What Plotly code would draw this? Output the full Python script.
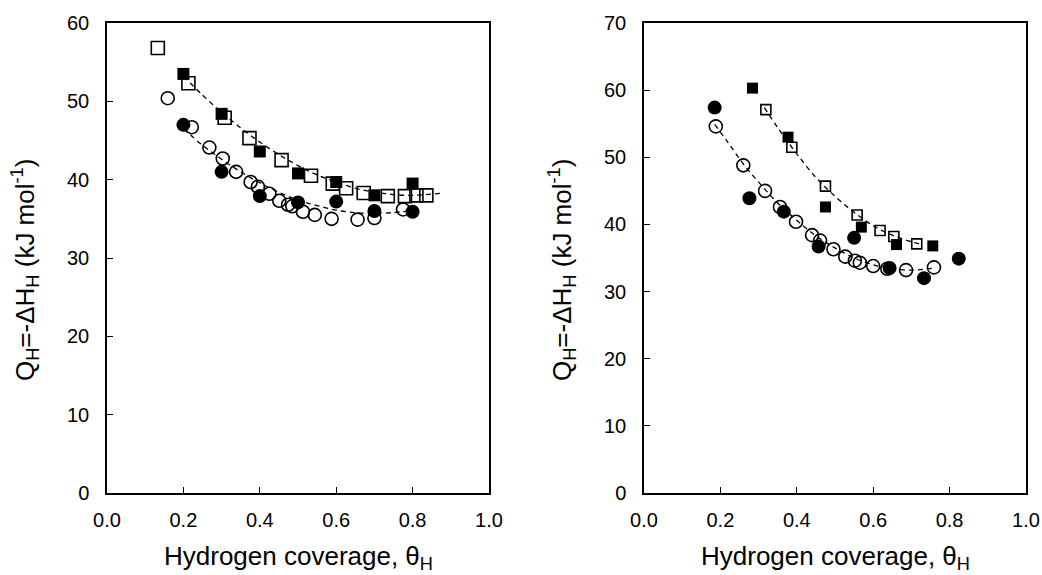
import plotly.graph_objects as go

# ---------------- Left panel data ----------------
L_open_sq_x = [0.133, 0.213, 0.308, 0.373, 0.457, 0.534, 0.591, 0.626, 0.672, 0.735, 0.780, 0.810, 0.836]
L_open_sq_y = [56.8, 52.3, 47.9, 45.3, 42.5, 40.5, 39.5, 38.9, 38.3, 37.9, 37.9, 38.0, 38.0]
L_fill_sq_x = [0.2, 0.3, 0.4, 0.5, 0.6, 0.7, 0.8]
L_fill_sq_y = [53.5, 48.4, 43.6, 40.8, 39.7, 38.0, 39.5]
L_fill_ci_x = [0.2, 0.3, 0.4, 0.5, 0.6, 0.7, 0.8]
L_fill_ci_y = [47.0, 41.0, 37.9, 37.1, 37.2, 36.0, 35.9]
L_open_ci_x = [0.159, 0.222, 0.268, 0.303, 0.338, 0.376, 0.395, 0.425, 0.451, 0.474, 0.485,
               0.513, 0.544, 0.588, 0.656, 0.700, 0.775]
L_open_ci_y = [50.4, 46.7, 44.1, 42.7, 41.0, 39.7, 39.1, 38.2, 37.3, 36.8, 36.6,
               35.9, 35.5, 35.0, 34.9, 35.1, 36.2]
# dashed fit curves
L_fit_up_x = [0.20, 0.25, 0.30, 0.35, 0.40, 0.45, 0.50, 0.55, 0.60, 0.65, 0.70, 0.75, 0.80, 0.88]
L_fit_up_y = [53.2, 50.8, 48.6, 46.6, 44.8, 43.2, 41.8, 40.6, 39.7, 38.9, 38.4, 38.1, 38.0, 38.3]
L_fit_lo_x = [0.20, 0.25, 0.30, 0.35, 0.40, 0.45, 0.50, 0.55, 0.60, 0.65, 0.70, 0.75, 0.79]
L_fit_lo_y = [46.5, 44.4, 42.6, 41.0, 39.6, 38.4, 37.4, 36.7, 36.1, 35.8, 35.7, 35.8, 36.0]

# ---------------- Right panel data ----------------
R_fill_sq_x = [0.284, 0.377, 0.475, 0.569, 0.661, 0.756]
R_fill_sq_y = [60.3, 53.0, 42.6, 39.6, 37.0, 36.8]
R_open_sq_x = [0.319, 0.387, 0.475, 0.558, 0.618, 0.654, 0.714]
R_open_sq_y = [57.1, 51.5, 45.7, 41.4, 39.1, 38.2, 37.1]
R_fill_ci_x = [0.185, 0.276, 0.366, 0.457, 0.550, 0.643, 0.733, 0.824]
R_fill_ci_y = [57.4, 43.9, 41.9, 36.7, 38.0, 33.5, 32.0, 34.9]
R_open_ci_x = [0.188, 0.260, 0.317, 0.356, 0.398, 0.440, 0.461, 0.496, 0.527, 0.552, 0.565,
               0.600, 0.637, 0.686, 0.759]
R_open_ci_y = [54.6, 48.8, 45.0, 42.6, 40.4, 38.4, 37.6, 36.3, 35.2, 34.6, 34.3,
               33.8, 33.4, 33.2, 33.6]
R_fit_up_x = [0.315, 0.35, 0.40, 0.45, 0.50, 0.55, 0.60, 0.65, 0.70, 0.72]
R_fit_up_y = [57.4, 54.4, 50.5, 47.0, 44.2, 41.8, 39.8, 38.4, 37.4, 37.1]
R_fit_lo_x = [0.185, 0.22, 0.26, 0.30, 0.35, 0.40, 0.45, 0.50, 0.55, 0.60, 0.65, 0.70, 0.76]
R_fit_lo_y = [54.9, 52.2, 49.0, 46.3, 43.2, 40.6, 38.3, 36.5, 35.0, 34.0, 33.4, 33.2, 33.5]

x_ticks = [0.0, 0.2, 0.4, 0.6, 0.8, 1.0]
x_tick_text = ["0.0", "0.2", "0.4", "0.6", "0.8", "1.0"]
yL_ticks = [0, 10, 20, 30, 40, 50, 60]
yR_ticks = [0, 10, 20, 30, 40, 50, 60, 70]

FONT = "Liberation Sans, Arial, sans-serif"
W, H = 1042, 575

fig = go.Figure()


def dashed(x, y, xa, ya):
    fig.add_trace(go.Scatter(x=x, y=y, mode="lines", xaxis=xa, yaxis=ya,
                             line=dict(color="black", width=1.3, dash="5px,4px", shape="spline"),
                             showlegend=False, hoverinfo="skip"))


def markers(x, y, xa, ya, symbol, size, lw=0):
    fig.add_trace(go.Scatter(x=x, y=y, mode="markers", xaxis=xa, yaxis=ya,
                             marker=dict(symbol=symbol, size=size, color="black",
                                         line=dict(color="black", width=lw)),
                             showlegend=False))


# left panel
dashed(L_fit_up_x, L_fit_up_y, "x", "y")
dashed(L_fit_lo_x, L_fit_lo_y, "x", "y")
markers(L_open_ci_x, L_open_ci_y, "x", "y", "circle-open", 13, 1.6)
markers(L_open_sq_x, L_open_sq_y, "x", "y", "square-open", 13, 1.6)
markers(L_fill_sq_x, L_fill_sq_y, "x", "y", "square", 12)
markers(L_fill_ci_x, L_fill_ci_y, "x", "y", "circle", 14)

# right panel
dashed(R_fit_up_x, R_fit_up_y, "x2", "y2")
dashed(R_fit_lo_x, R_fit_lo_y, "x2", "y2")
markers(R_open_ci_x, R_open_ci_y, "x2", "y2", "circle-open", 13, 1.6)
markers(R_open_sq_x, R_open_sq_y, "x2", "y2", "square-open", 10, 1.6)
markers(R_fill_sq_x, R_fill_sq_y, "x2", "y2", "square", 11)
markers(R_fill_ci_x, R_fill_ci_y, "x2", "y2", "circle", 14)

ydom = [1 - 493 / H, 1 - 23 / H]
axis_common = dict(showline=True, linecolor="black", linewidth=1.5, mirror=True,
                   ticks="inside", ticklen=6, tickwidth=1.3, tickcolor="black",
                   showgrid=False, zeroline=False, automargin=False,
                   tickfont=dict(family=FONT, size=20, color="black"))

fig.update_layout(
    template="none",
    width=W, height=H,
    margin=dict(l=0, r=0, t=0, b=0, pad=0, autoexpand=False),
    paper_bgcolor="white", plot_bgcolor="white",
    font=dict(family=FONT, color="black"),
    xaxis=dict(domain=[107 / W, 489 / W], range=[0, 1], tickvals=x_ticks, ticktext=x_tick_text,
               anchor="y", ticklabelstandoff=8, **axis_common),
    yaxis=dict(domain=ydom, range=[0, 60], tickvals=yL_ticks, anchor="x",
               ticklabelstandoff=12, **axis_common),
    xaxis2=dict(domain=[644 / W, 1026 / W], range=[0, 1], tickvals=x_ticks, ticktext=x_tick_text,
                anchor="y2", ticklabelstandoff=8, **axis_common),
    yaxis2=dict(domain=ydom, range=[0, 70], tickvals=yR_ticks, anchor="x2",
                ticklabelstandoff=12, **axis_common),
)

xtitle = "Hydrogen coverage, θ<sub>H</sub>"
ytitle = "Q<sub>H</sub>=-ΔH<sub>H</sub> (kJ mol<sup>-1</sup>)"
tfont = dict(family=FONT, size=26, color="black")
for cx in [298, 835]:
    fig.add_annotation(text=xtitle, x=cx / W, y=1 - 557 / H, xref="paper", yref="paper",
                       showarrow=False, font=tfont, xanchor="center", yanchor="middle")
for cx in [25, 562]:
    fig.add_annotation(text=ytitle, x=cx / W, y=1 - 270 / H, xref="paper", yref="paper",
                       showarrow=False, font=tfont, textangle=-90,
                       xanchor="center", yanchor="middle")

fig.write_html("out.html",
               config={"displayModeBar": False},
               post_script="document.body.style.margin='0px';document.body.style.padding='0px';")
